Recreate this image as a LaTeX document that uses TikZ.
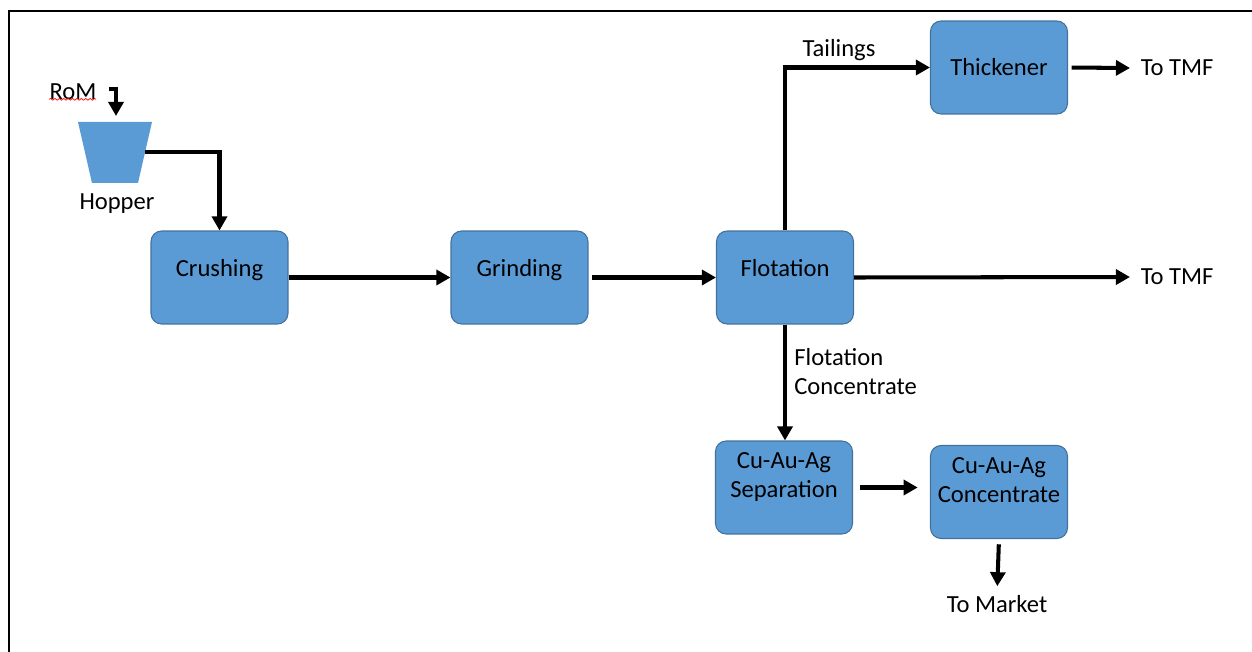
\documentclass[tikz,border=0pt]{standalone}
\usepackage{fontspec}
\setmainfont{Carlito}
\usetikzlibrary{arrows.meta,decorations.pathmorphing}

\definecolor{unitfill}{HTML}{5B9BD5}
\definecolor{unitline}{HTML}{41719C}

\tikzset{
  unit/.style={rectangle, rounded corners=6pt, draw=unitline, line width=0.6pt,
    fill=unitfill, minimum width=2.74cm, minimum height=1.86cm, align=center,
    font=\fontsize{14}{16.6}\selectfont},
  tag/.style={inner sep=6pt, font=\fontsize{14}{16.6}\selectfont},
  flow/.style={line width=2.3pt, -{Triangle[length=8pt,width=8.5pt]}}
}

\begin{document}
\begin{tikzpicture}[x=0.02cm,y=-0.02cm]
  \useasboundingbox (0,0) rectangle (1252,652);
  % frame, cut at the right and bottom
  \draw[line width=1.6pt] (9,652) -- (9,11) -- (1252,11);

  % hopper
  \fill[unitfill] (78,122) -- (152,122) -- (138,183) -- (92,183) -- cycle;
  \coordinate (hopin) at (116,116);
  \coordinate (hopout) at (145,152);
  \node[tag] (hopperlbl) at (117,204) {Hopper};
  \node[tag, inner sep=0pt] (rom) at (73,92) {RoM};
  \draw[red, line width=0.4pt, decorate, decoration={snake, amplitude=0.5pt, segment length=2.5pt}]
    (rom.south west) ++(0,-1) -- ++(47,0);
  \coordinate (romin) at (109,89);

  % process units (text sits a little high in the boxes)
  \node[unit, text depth=11pt] (crush) at (219.5,277.5) {Crushing};
  \node[unit, text depth=11pt] (grind) at (519.5,277.5) {Grinding};
  \node[unit, text depth=11pt] (flot) at (785,277.5) {Flotation};
  \node[unit] (thick) at (999,67.5) {Thickener};
  \node[unit, text depth=14pt] (sep) at (784,487.5) {Cu-Au-Ag\\Separation};
  \node[unit, text depth=14pt] (conc) at (999,492) {Cu-Au-Ag\\Concentrate};

  % stream labels
  \node[tag, anchor=west] (tmfA) at (1130,68) {To TMF};
  \node[tag, anchor=west] (tmfB) at (1130,277) {To TMF};
  \node[tag] (tail) at (839,50) {Tailings};
  \node[tag, anchor=north west, align=left, inner sep=0pt] (fconc) at (794,348) {Flotation\\Concentrate};
  \node[tag, anchor=north, inner sep=0pt] (market) at (997,595) {To Market};

  % streams
  \draw[flow] (romin) -| (hopin);
  \draw[flow] (hopout) -| (crush.north);
  \draw[flow] (crush.east) -- (grind.west);
  \draw[flow, shorten <=2pt] (grind.east) -- (flot.west);
  \draw[flow] (flot.east) -- (tmfB.west);
  \draw[flow] (flot.north) |- (thick.west);
  \draw[flow, shorten <=2pt] (thick.east) -- (tmfA.west);
  \draw[flow] (flot.south) -- (flot.south |- sep.north);
  \draw[flow, shorten <=4pt, shorten >=7pt] (sep.east) -- (sep.east -| conc.west);
  \draw[flow, shorten <=3pt, shorten >=5pt] (conc.south) -- (market.north);
\end{tikzpicture}
\end{document}
